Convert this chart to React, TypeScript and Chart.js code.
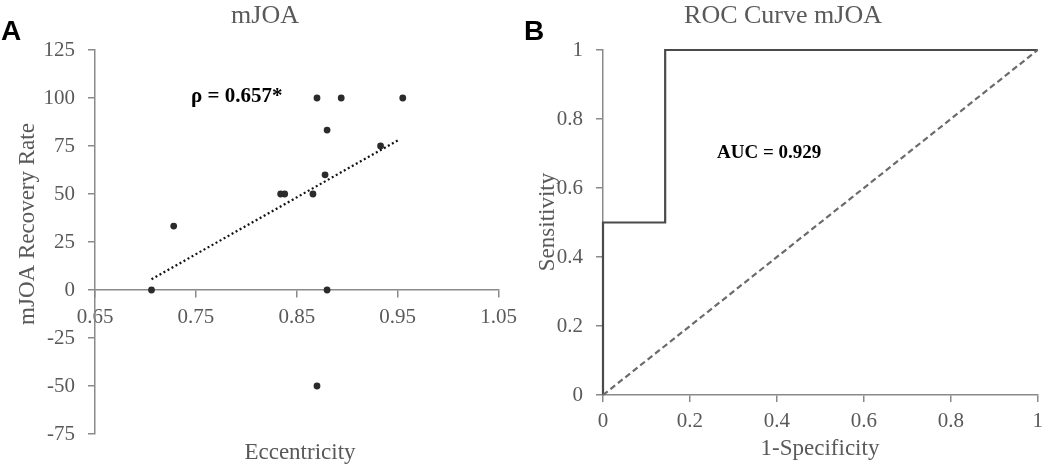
import React, { useEffect, useRef } from "react";
import { Chart, registerables } from "chart.js";

Chart.register(...registerables);

// ---------- Panel A data ----------
const eccentricity = [0.706, 0.728, 0.834, 0.838, 0.866, 0.87, 0.878, 0.88, 0.88, 0.894, 0.933, 0.955, 0.87];
const recoveryRate = [0, 33.3, 50, 50, 50, 100, 60, 83.3, 0, 100, 75, 100, -50];
const trendEccentricity = [0.706, 0.952];
const trendRecovery = [5.6, 78.5];
const leftXTicks = [0.65, 0.75, 0.85, 0.95, 1.05];
const leftXTickLabels = ["0.65", "0.75", "0.85", "0.95", "1.05"];
const leftYTicks = [-75, -50, -25, 0, 25, 50, 75, 100, 125];
const leftYTickLabels = ["-75", "-50", "-25", "0", "25", "50", "75", "100", "125"];

// ---------- Panel B data ----------
const rocFpr = [0, 0, 0.143, 0.143, 1];
const rocTpr = [0, 0.5, 0.5, 1, 1];
const chanceFpr = [0, 1];
const chanceTpr = [0, 1];
const rocTicks = [0, 0.2, 0.4, 0.6, 0.8, 1];
const rocTickLabels = ["0", "0.2", "0.4", "0.6", "0.8", "1"];

const SERIF = "'Liberation Serif', 'Times New Roman', serif";
const SANS = "'Liberation Sans', Arial, sans-serif";
const GRAY_TEXT = "#595959";
const AXIS = "#8a8a8a";

type TextItem = {
  text: string;
  x: number;
  y: number;
  font: string;
  color: string;
  align?: CanvasTextAlign;
  baseline?: CanvasTextBaseline;
  rotate?: number;
};

function textPlugin(items: TextItem[]) {
  return {
    id: "panelText",
    afterDraw(chart: any) {
      const ctx = chart.ctx as CanvasRenderingContext2D;
      for (const it of items) {
        ctx.save();
        ctx.font = it.font;
        ctx.fillStyle = it.color;
        ctx.textAlign = it.align || "left";
        ctx.textBaseline = it.baseline || "alphabetic";
        ctx.translate(it.x, it.y);
        if (it.rotate) ctx.rotate(it.rotate);
        ctx.fillText(it.text, 0, 0);
        ctx.restore();
      }
    },
  };
}

function tickSet(values: number[]) {
  return (scale: any) => {
    scale.ticks = values.map((v) => ({ value: v }));
  };
}

function axisCommon(labels: string[], values: number[], padding: number) {
  return {
    afterBuildTicks: tickSet(values),
    grid: { drawOnChartArea: false, drawTicks: true, tickLength: 7, color: AXIS, lineWidth: 1.5 },
    border: { display: true, color: AXIS, width: 1.5 },
    ticks: {
      color: GRAY_TEXT,
      font: { family: SERIF, size: 21 },
      callback: (_v: any, i: number) => labels[i],
      maxRotation: 0,
      autoSkip: false,
      padding,
    },
  };
}

function leftConfig(): any {
  return {
    type: "scatter",
    data: {
      datasets: [
        {
          type: "line",
          data: trendEccentricity.map((x, i) => ({ x, y: trendRecovery[i] })),
          borderColor: "#111",
          borderWidth: 2.2,
          borderDash: [2, 2.6],
          pointRadius: 0,
          fill: false,
        },
        {
          data: eccentricity.map((x, i) => ({ x, y: recoveryRate[i] })),
          backgroundColor: "#2b2b2b",
          borderColor: "#2b2b2b",
          pointRadius: 3.4,
          borderWidth: 0,
        },
      ],
    },
    options: {
      animation: false,
      responsive: true,
      maintainAspectRatio: false,
      layout: { padding: { top: 50, right: 23, bottom: 30, left: 0 } },
      plugins: { legend: { display: false }, tooltip: { enabled: false }, title: { display: false } },
      scales: {
        x: {
          type: "linear",
          position: { y: 0 },
          min: 0.65,
          max: 1.05,
          ...axisCommon(leftXTickLabels, leftXTicks, 8),
        },
        y: {
          type: "linear",
          position: "left",
          min: -75,
          max: 125,
          ...axisCommon(leftYTickLabels, leftYTicks, 13),
          afterFit: (s: any) => {
            s.width = 95;
          },
        },
      },
    },
    plugins: [
      textPlugin([
        { text: "A", x: 1, y: 40, font: `bold 28px ${SANS}`, color: "#000" },
        { text: "mJOA", x: 265, y: 23, font: `26px ${SERIF}`, color: GRAY_TEXT, align: "center" },
        { text: "ρ = 0.657*", x: 191, y: 102, font: `bold 21px ${SERIF}`, color: "#000" },
        {
          text: "mJOA Recovery Rate",
          x: 28,
          y: 224,
          font: `23px ${SERIF}`,
          color: GRAY_TEXT,
          align: "center",
          baseline: "middle",
          rotate: -Math.PI / 2,
        },
        { text: "Eccentricity", x: 300, y: 459, font: `23px ${SERIF}`, color: GRAY_TEXT, align: "center" },
      ]),
    ],
  };
}

function rightConfig(): any {
  return {
    type: "scatter",
    data: {
      datasets: [
        {
          type: "line",
          data: chanceFpr.map((x, i) => ({ x, y: chanceTpr[i] })),
          borderColor: "#6b6b6b",
          borderWidth: 2.2,
          borderDash: [6, 3.5],
          pointRadius: 0,
          fill: false,
          clip: false,
        },
        {
          type: "line",
          data: rocFpr.map((x, i) => ({ x, y: rocTpr[i] })),
          borderColor: "#4a4a4a",
          borderWidth: 2.2,
          pointRadius: 0,
          fill: false,
          tension: 0,
          clip: false,
        },
      ],
    },
    options: {
      animation: false,
      responsive: true,
      maintainAspectRatio: false,
      layout: { padding: { top: 50, right: 12, bottom: 0, left: 0 } },
      plugins: { legend: { display: false }, tooltip: { enabled: false }, title: { display: false } },
      scales: {
        x: {
          type: "linear",
          position: "bottom",
          min: 0,
          max: 1,
          ...axisCommon(rocTickLabels, rocTicks, 7),
          afterFit: (s: any) => {
            s.height = 69;
          },
        },
        y: {
          type: "linear",
          position: "left",
          min: 0,
          max: 1,
          ...axisCommon(rocTickLabels, rocTicks, 13),
          afterFit: (s: any) => {
            s.width = 78;
          },
        },
      },
    },
    plugins: [
      textPlugin([
        { text: "B", x: -1, y: 40, font: `bold 28px ${SANS}`, color: "#000" },
        { text: "ROC Curve mJOA", x: 258, y: 23, font: `26px ${SERIF}`, color: GRAY_TEXT, align: "center" },
        { text: "AUC = 0.929", x: 192, y: 158, font: `bold 19px ${SERIF}`, color: "#000" },
        {
          text: "Sensitivity",
          x: 23,
          y: 222,
          font: `23px ${SERIF}`,
          color: GRAY_TEXT,
          align: "center",
          baseline: "middle",
          rotate: -Math.PI / 2,
        },
        { text: "1-Specificity", x: 295, y: 455, font: `23px ${SERIF}`, color: GRAY_TEXT, align: "center" },
      ]),
    ],
  };
}

function ChartBox({ makeConfig, left }: { makeConfig: () => any; left: number }) {
  const ref = useRef<HTMLCanvasElement | null>(null);
  useEffect(() => {
    if (!ref.current) return;
    const chart = new Chart(ref.current, makeConfig());
    return () => chart.destroy();
  }, [makeConfig]);
  return (
    <div style={{ position: "absolute", left, top: 0, width: 525, height: 464 }}>
      <canvas ref={ref} />
    </div>
  );
}

export default function App() {
  return (
    <div
      style={{
        position: "absolute",
        left: 0,
        top: 0,
        width: 1050,
        height: 464,
        background: "#fff",
        overflow: "hidden",
      }}
    >
      <ChartBox makeConfig={leftConfig} left={0} />
      <ChartBox makeConfig={rightConfig} left={525} />
    </div>
  );
}
